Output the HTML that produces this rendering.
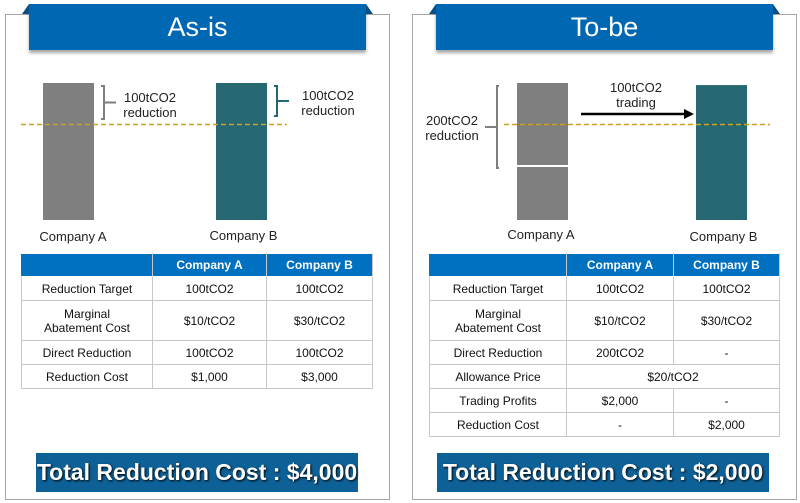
<!DOCTYPE html>
<html><head><meta charset="utf-8">
<style>
body{margin:0;width:800px;height:503px;background:#fff;position:relative;overflow:hidden;font-family:"Liberation Sans",sans-serif;}
.abs{position:absolute;}
.panel{position:absolute;border:1px solid #a6a6a6;top:14px;height:484px;width:383px;background:#fff;}
.hdr{position:absolute;top:4px;height:46px;background:#0068b3;color:#fff;font-size:27px;text-align:center;line-height:46px;box-shadow:0 3px 3px rgba(0,0,0,0.35);}
.hdr:before,.hdr:after{content:"";position:absolute;top:0;border-bottom:10px solid #0a4f82;}
.hdr:before{left:-7px;border-left:7px solid transparent;}
.hdr:after{right:-7px;border-right:7px solid transparent;}
table{position:absolute;border-collapse:collapse;font-size:12px;color:#111;}
td,th{border:1px solid #c8c8c8;text-align:center;padding:0;line-height:14px;}
th{background:#0070c0;color:#fff;font-weight:bold;border-color:#fff #c8c8c8 #fff #c8c8c8;}
.total{position:absolute;top:453px;height:39px;background:#0e6197;color:#fff;font-weight:bold;font-size:23px;text-align:center;line-height:39px;text-shadow:1px 1px 2px #000;}
.lbl{position:absolute;font-size:13px;color:#222;text-align:center;line-height:15px;}
svg{position:absolute;left:0;top:0;}
</style></head><body>
<div class="panel" style="left:5px"></div>
<div class="panel" style="left:412px"></div>
<div class="hdr" style="left:29px;width:337px">As-is</div>
<div class="hdr" style="left:436px;width:337px">To-be</div>

<svg id="chart" width="800" height="503"></svg>

<div class="lbl" style="left:110px;top:90px;width:80px">100tCO2<br>reduction</div>
<div class="lbl" style="left:288px;top:88px;width:80px">100tCO2<br>reduction</div>
<div class="lbl" style="left:28px;top:229px;width:90px">Company A</div>
<div class="lbl" style="left:196px;top:228px;width:95px">Company B</div>
<div class="lbl" style="left:412px;top:113px;width:80px">200tCO2<br>reduction</div>
<div class="lbl" style="left:596px;top:80px;width:80px">100tCO2<br>trading</div>
<div class="lbl" style="left:496px;top:227px;width:90px">Company A</div>
<div class="lbl" style="left:676px;top:229px;width:95px">Company B</div>

<table style="left:21px;top:253px;width:352px">
<tr style="height:23px"><th style="width:130px;border-left-color:#0070c0"></th><th style="width:113px">Company A</th><th>Company B</th></tr>
<tr style="height:24px"><td>Reduction Target</td><td>100tCO2</td><td>100tCO2</td></tr>
<tr style="height:40px"><td>Marginal<br>Abatement Cost</td><td>$10/tCO2</td><td>$30/tCO2</td></tr>
<tr style="height:24px"><td>Direct Reduction</td><td>100tCO2</td><td>100tCO2</td></tr>
<tr style="height:24px"><td>Reduction Cost</td><td>$1,000</td><td>$3,000</td></tr>
</table>
<table style="left:429px;top:253px;width:351px">
<tr style="height:23px"><th style="width:136px;border-left-color:#0070c0"></th><th style="width:106px">Company A</th><th>Company B</th></tr>
<tr style="height:24px"><td>Reduction Target</td><td>100tCO2</td><td>100tCO2</td></tr>
<tr style="height:40px"><td>Marginal<br>Abatement Cost</td><td>$10/tCO2</td><td>$30/tCO2</td></tr>
<tr style="height:24px"><td>Direct Reduction</td><td>200tCO2</td><td>-</td></tr>
<tr style="height:24px"><td>Allowance Price</td><td colspan="2">$20/tCO2</td></tr>
<tr style="height:24px"><td>Trading Profits</td><td>$2,000</td><td>-</td></tr>
<tr style="height:24px"><td>Reduction Cost</td><td>-</td><td>$2,000</td></tr>
</table>
<div class="total" style="left:36px;width:322px">Total Reduction Cost : $4,000</div>
<div class="total" style="left:437px;width:332px">Total Reduction Cost : $2,000</div>

<script>
const companies = ["Company A","Company B"];
const asIsEmissions = [330, 330];
const toBeEmissions = [330, 325];
const targetLevel = 230;
const toBeSplit = 130;
const baseY = 220, pxPerUnit = 137/330;
function y(v){return baseY - v*pxPerUnit;}
const svg = document.getElementById('chart');
const NS = "http://www.w3.org/2000/svg";
function el(tag, attrs){const e=document.createElementNS(NS,tag);for(const k in attrs)e.setAttribute(k,attrs[k]);svg.appendChild(e);return e;}
const asX=[43,216], toX=[517,696], colors=["#7f7f7f","#266872"];
asIsEmissions.forEach((v,i)=>{
  const r=el('rect',{x:asX[i],y:y(v),width:51,height:baseY-y(v),fill:colors[i]});
  
  
});
toBeEmissions.forEach((v,i)=>{
  const r=el('rect',{x:toX[i],y:y(v),width:51,height:baseY-y(v),fill:colors[i]});
  
  
});
const sp=el('line',{x1:517,x2:568,y1:y(toBeSplit),y2:y(toBeSplit),stroke:"#fff","stroke-width":2});


[[21,287],[504,770]].forEach((p,i)=>{
  const l=el('line',{x1:p[0],x2:p[1],y1:y(targetLevel),y2:y(targetLevel),stroke:"#c9a227","stroke-width":1.5,"stroke-dasharray":"5,3"});
  
  
});
function bracketR(x,y1,y2,c){const m=(y1+y2)/2;const p=el('path',{d:`M${x} ${y1}h3v${y2-y1}h-3M${x+3} ${m}h12`,fill:"none",stroke:c,"stroke-width":2});

}
bracketR(101,86,119,"#7f7f7f");
bracketR(274,86,116,"#266872");
const bl=el('path',{d:"M499 86h-2v82h2M497 127h-12",fill:"none",stroke:"#7f7f7f","stroke-width":2});


const ar=el('line',{x1:581,x2:686,y1:114,y2:114,stroke:"#000","stroke-width":2.5});


const ah=el('polygon',{points:"684,109 694,114 684,119",fill:"#000"});


</script>
</body></html>
